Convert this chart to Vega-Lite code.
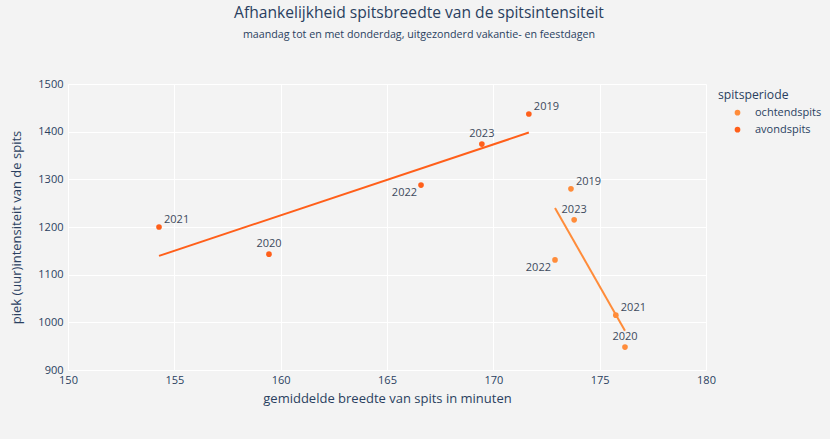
{
  "$schema": "https://vega.github.io/schema/vega-lite/v6.json",
  "autosize": "none",
  "width": 638,
  "height": 286,
  "padding": {"left": 68, "top": 84, "right": 124, "bottom": 69},
  "background": "#f3f3f3",
  "config": {
    "font": "Open Sans",
    "view": {"fill": "#f3f3f3", "stroke": null},
    "axis": {
      "domain": false, "ticks": false, "gridColor": "#ffffff", "gridWidth": 1, "labelFlush": false,
      "labelColor": "#2a3f5f", "titleColor": "#2a3f5f", "labelFont": "Open Sans", "titleFont": "Open Sans",
      "labelFontSize": 11, "titleFontSize": 13, "titleFontWeight": "normal"
    }
  },
  "title": {
    "text": "Afhankelijkheid spitsbreedte van de spitsintensiteit",
    "subtitle": "maandag tot en met donderdag, uitgezonderd vakantie- en feestdagen",
    "anchor": "middle", "dx": 32, "offset": 38,
    "fontSize": 15.6, "fontWeight": "normal", "color": "#2a3f5f", "font": "Open Sans",
    "subtitleFontSize": 10.7, "subtitleColor": "#2a3f5f", "subtitleFont": "Open Sans", "subtitlePadding": 9
  },
  "data": {
    "values": [
      {"spitsperiode": "avondspits", "jaar": "2019", "breedte": 171.67, "intensiteit": 1437},
      {"spitsperiode": "avondspits", "jaar": "2020", "breedte": 159.45, "intensiteit": 1143},
      {"spitsperiode": "avondspits", "jaar": "2021", "breedte": 154.28, "intensiteit": 1200},
      {"spitsperiode": "avondspits", "jaar": "2022", "breedte": 166.6, "intensiteit": 1288},
      {"spitsperiode": "avondspits", "jaar": "2023", "breedte": 169.46, "intensiteit": 1374},
      {"spitsperiode": "ochtendspits", "jaar": "2019", "breedte": 173.65, "intensiteit": 1280},
      {"spitsperiode": "ochtendspits", "jaar": "2020", "breedte": 176.19, "intensiteit": 948},
      {"spitsperiode": "ochtendspits", "jaar": "2021", "breedte": 175.76, "intensiteit": 1015},
      {"spitsperiode": "ochtendspits", "jaar": "2022", "breedte": 172.9, "intensiteit": 1131},
      {"spitsperiode": "ochtendspits", "jaar": "2023", "breedte": 173.8, "intensiteit": 1215}
    ]
  },
  "encoding": {
    "x": {"field": "breedte", "type": "quantitative", "scale": {"domain": [150, 180], "nice": false, "zero": false},
      "axis": {"title": "gemiddelde breedte van spits in minuten", "values": [150, 155, 160, 165, 170, 175, 180], "format": "d", "labelPadding": 4, "titlePadding": 7}},
    "y": {"field": "intensiteit", "type": "quantitative", "scale": {"domain": [900, 1500], "nice": false, "zero": false},
      "axis": {"title": "piek (uur)intensiteit van de spits", "values": [900, 1000, 1100, 1200, 1300, 1400, 1500], "format": "d", "labelPadding": 5, "titlePadding": 14}},
    "color": {"field": "spitsperiode", "type": "nominal",
      "scale": {"domain": ["ochtendspits", "avondspits"], "range": ["#ff8c3a", "#ff5f1a"]},
      "legend": {"title": "spitsperiode", "orient": "none", "legendX": 650, "legendY": 5, "padding": 0,
        "symbolType": "circle", "symbolSize": 32, "symbolStrokeWidth": 0, "symbolOffset": 14, "labelOffset": 12,
        "titleFontSize": 12.2, "titleFontWeight": "normal", "titleColor": "#2a3f5f", "titleFont": "Open Sans",
        "labelFontSize": 11, "labelColor": "#2a3f5f", "labelFont": "Open Sans", "titlePadding": 6, "rowPadding": 5}}
  },
  "layer": [
    {
      "mark": {"type": "point", "filled": true, "opacity": 1, "size": 32}
    },
    {
      "transform": [{"regression": "intensiteit", "on": "breedte", "groupby": ["spitsperiode"]}],
      "mark": {"type": "line", "strokeWidth": 2}
    },
    {
      "transform": [{"filter": "datum.jaar == '2019' || datum.jaar == '2021'"}],
      "mark": {"type": "text", "align": "left", "baseline": "bottom", "dx": 5, "dy": -2, "fontSize": 11, "font": "Open Sans"},
      "encoding": {"text": {"field": "jaar"}, "color": {"value": "#3d4a5c"}}
    },
    {
      "transform": [{"filter": "datum.jaar == '2020' || datum.jaar == '2023'"}],
      "mark": {"type": "text", "align": "center", "baseline": "bottom", "dy": -5, "fontSize": 11, "font": "Open Sans"},
      "encoding": {"text": {"field": "jaar"}, "color": {"value": "#3d4a5c"}}
    },
    {
      "transform": [{"filter": "datum.jaar == '2022'"}],
      "mark": {"type": "text", "align": "right", "baseline": "top", "dx": -4, "dy": 2, "fontSize": 11, "font": "Open Sans"},
      "encoding": {"text": {"field": "jaar"}, "color": {"value": "#3d4a5c"}}
    }
  ]
}
